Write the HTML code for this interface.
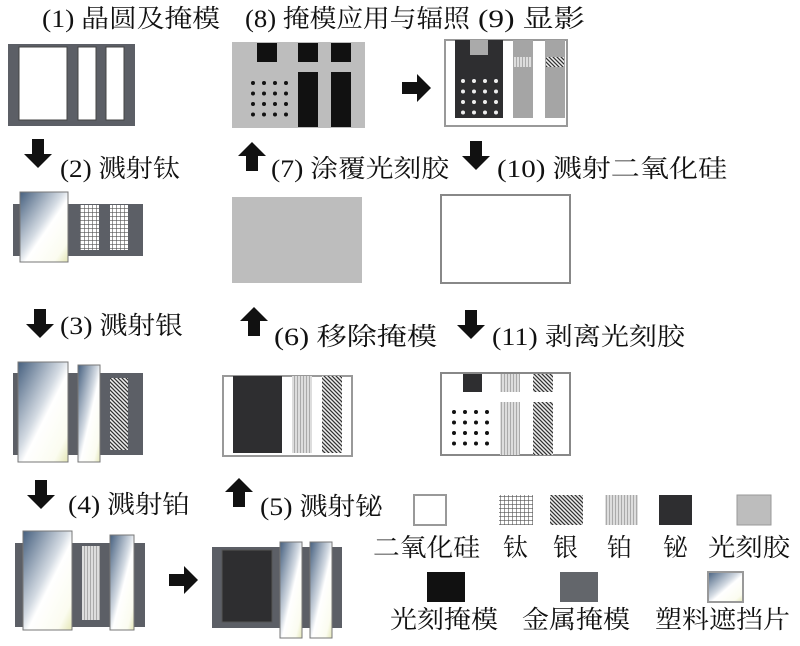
<!DOCTYPE html>
<html><head><meta charset="utf-8">
<style>
html,body{margin:0;padding:0;background:#fff;}
svg{display:block;}
text{font-family:"Liberation Serif","Noto Serif CJK SC","Noto Sans CJK SC",serif;font-size:25px;fill:#111;}
</style></head><body>
<svg width="800" height="646" viewBox="0 0 800 646" xmlns="http://www.w3.org/2000/svg">
<defs>
<pattern id="ti" width="4" height="4" patternUnits="userSpaceOnUse">
<rect width="4" height="4" fill="#fff"/><path d="M0 0H4M0 0V4" stroke="#555" stroke-width="1.2"/></pattern>
<pattern id="ag" width="4" height="4" patternUnits="userSpaceOnUse">
<rect width="4" height="4" fill="#eee"/><path d="M-1 -1L5 5M-1 3L1 5M3 -1L5 1" stroke="#333" stroke-width="1.3"/></pattern>
<pattern id="pt" width="3" height="4" patternUnits="userSpaceOnUse">
<rect width="3" height="4" fill="#ddd"/><path d="M0 0V4" stroke="#777" stroke-width="1"/></pattern>
<linearGradient id="gl" x1="0" y1="0" x2="1" y2="1">
<stop offset="0" stop-color="#46607f"/><stop offset="0.45" stop-color="#d4dbe3"/><stop offset="0.55" stop-color="#fff"/><stop offset="0.85" stop-color="#fbfcf0"/><stop offset="1" stop-color="#e4e6b6"/></linearGradient>
<g id="au"><polygon points="-6,29 6,29 6,14 14,14 0,0 -14,14 -6,14" fill="#111"/></g>
<g id="dots">
<circle cx="0" cy="0" r="2"/><circle cx="11" cy="0" r="2"/><circle cx="22" cy="0" r="2"/><circle cx="33" cy="0" r="2"/>
<circle cx="0" cy="10.5" r="2"/><circle cx="11" cy="10.5" r="2"/><circle cx="22" cy="10.5" r="2"/><circle cx="33" cy="10.5" r="2"/>
<circle cx="0" cy="21" r="2"/><circle cx="11" cy="21" r="2"/><circle cx="22" cy="21" r="2"/><circle cx="33" cy="21" r="2"/>
<circle cx="0" cy="31.5" r="2"/><circle cx="11" cy="31.5" r="2"/><circle cx="22" cy="31.5" r="2"/><circle cx="33" cy="31.5" r="2"/>
</g>
</defs>

<!-- Labels -->
<text x="42" y="27" textLength="178" lengthAdjust="spacingAndGlyphs">(1) 晶圆及掩模</text>
<text x="245" y="27" textLength="225" lengthAdjust="spacingAndGlyphs">(8) 掩模应用与辐照</text>
<text x="478" y="27" textLength="107" lengthAdjust="spacingAndGlyphs">(9) 显影</text>
<text x="60" y="177" textLength="120" lengthAdjust="spacingAndGlyphs">(2) 溅射钛</text>
<text x="271" y="177" textLength="178" lengthAdjust="spacingAndGlyphs">(7) 涂覆光刻胶</text>
<text x="497" y="177" textLength="230" lengthAdjust="spacingAndGlyphs">(10) 溅射二氧化硅</text>
<text x="60" y="334" textLength="123" lengthAdjust="spacingAndGlyphs">(3) 溅射银</text>
<text x="274" y="345" textLength="163" lengthAdjust="spacingAndGlyphs">(6) 移除掩模</text>
<text x="492" y="345" textLength="193" lengthAdjust="spacingAndGlyphs">(11) 剥离光刻胶</text>
<text x="68" y="513" textLength="122" lengthAdjust="spacingAndGlyphs">(4) 溅射铂</text>
<text x="260" y="515" textLength="123" lengthAdjust="spacingAndGlyphs">(5) 溅射铋</text>

<!-- Arrows -->
<use href="#au" transform="translate(38,168) rotate(180)"/>
<use href="#au" transform="translate(40,338) rotate(180)"/>
<use href="#au" transform="translate(41,509) rotate(180)"/>
<use href="#au" transform="translate(239,478)"/>
<use href="#au" transform="translate(254,307)"/>
<use href="#au" transform="translate(252,142)"/>
<use href="#au" transform="translate(476,170) rotate(180)"/>
<use href="#au" transform="translate(471,339) rotate(180)"/>
<use href="#au" transform="translate(198,580) rotate(90)"/>
<use href="#au" transform="translate(431,88) rotate(90)"/>

<!-- Panel 1 -->
<rect x="8" y="44" width="127" height="82" fill="#5c5f66"/>
<rect x="19" y="47" width="48" height="73" fill="#fff" stroke="#444" stroke-width="1"/>
<rect x="78" y="47" width="18" height="73" fill="#fff" stroke="#444" stroke-width="1"/>
<rect x="106" y="47" width="18" height="73" fill="#fff" stroke="#444" stroke-width="1"/>

<!-- Panel 2 -->
<rect x="13" y="204" width="130" height="52" fill="#5c5f66"/>
<rect x="80" y="205" width="19" height="45" fill="url(#ti)"/>
<rect x="110" y="205" width="18" height="45" fill="url(#ti)"/>
<rect x="20" y="192" width="48" height="70" fill="url(#gl)" stroke="#777"/>

<!-- Panel 3 -->
<rect x="13" y="373" width="130" height="82" fill="#5c5f66"/>
<rect x="110" y="378" width="18" height="72" fill="url(#ag)"/>
<rect x="18" y="362" width="50" height="100" fill="url(#gl)" stroke="#777"/>
<rect x="78" y="365" width="22" height="97" fill="url(#gl)" stroke="#777"/>

<!-- Panel 4 -->
<rect x="15" y="543" width="130" height="84" fill="#5c5f66"/>
<rect x="82" y="546" width="18" height="74" fill="url(#pt)"/>
<rect x="23" y="531" width="49" height="99" fill="url(#gl)" stroke="#777"/>
<rect x="110" y="535" width="24" height="95" fill="url(#gl)" stroke="#777"/>

<!-- Panel 5 -->
<rect x="212" y="547" width="130" height="81" fill="#5c5f66"/>
<rect x="222" y="550" width="50" height="72" fill="#2e2e30" stroke="#555"/>
<rect x="280" y="542" width="22" height="96" fill="url(#gl)" stroke="#777"/>
<rect x="310" y="542" width="22" height="96" fill="url(#gl)" stroke="#777"/>

<!-- Panel 6 -->
<rect x="223" y="376" width="129" height="80" fill="#fff" stroke="#999" stroke-width="2"/>
<rect x="233" y="376" width="49" height="77" fill="#2e2e30"/>
<rect x="292" y="376" width="20" height="77" fill="url(#pt)"/>
<rect x="322" y="376" width="20" height="77" fill="url(#ag)"/>

<!-- Panel 7 -->
<rect x="232" y="197" width="130" height="86" fill="#bdbdbd"/>

<!-- Panel 8 -->
<rect x="232" y="42" width="133" height="86" fill="#bdbdbd"/>
<rect x="257" y="43" width="20" height="19" fill="#111"/>
<rect x="298" y="43" width="20" height="19" fill="#111"/>
<rect x="331" y="43" width="20" height="19" fill="#111"/>
<rect x="298" y="72" width="20" height="55" fill="#111"/>
<rect x="331" y="72" width="20" height="55" fill="#111"/>
<use href="#dots" transform="translate(253,83)" fill="#111"/>

<!-- Panel 9 -->
<rect x="445" y="40" width="122" height="86" fill="#fff" stroke="#999" stroke-width="2"/>
<rect x="455" y="40" width="48" height="78" fill="#2e2e30"/>
<rect x="470" y="40" width="18" height="15" fill="#aaa"/>
<use href="#dots" transform="translate(463,81)" fill="#eee"/>
<rect x="513" y="40" width="20" height="78" fill="#a5a5a5"/>
<rect x="545" y="40" width="20" height="78" fill="#a5a5a5"/>
<rect x="514" y="57" width="18" height="10" fill="url(#pt)"/>
<rect x="546" y="57" width="18" height="10" fill="url(#ag)"/>

<!-- Panel 10 -->
<rect x="441" y="195" width="129" height="88" fill="#fff" stroke="#888" stroke-width="2"/>

<!-- Panel 11 -->
<rect x="441" y="373" width="129" height="82" fill="#fff" stroke="#888" stroke-width="2"/>
<rect x="463" y="374" width="19" height="18" fill="#2e2e30"/>
<rect x="500" y="374" width="20" height="18" fill="url(#pt)"/>
<rect x="533" y="374" width="20" height="18" fill="url(#ag)"/>
<rect x="500" y="402" width="20" height="53" fill="url(#pt)"/>
<rect x="533" y="402" width="20" height="53" fill="url(#ag)"/>
<use href="#dots" transform="translate(454,412)" fill="#111"/>

<!-- Legend -->
<rect x="414" y="495" width="32" height="30" fill="#fff" stroke="#999" stroke-width="2"/>
<rect x="499" y="495" width="34" height="30" fill="url(#ti)"/>
<rect x="550" y="495" width="33" height="30" fill="url(#ag)"/>
<rect x="605" y="495" width="33" height="30" fill="url(#pt)"/>
<rect x="659" y="495" width="33" height="30" fill="#2e2e30"/>
<rect x="737" y="495" width="34" height="30" fill="#bdbdbd" stroke="#999" stroke-width="1"/>
<text x="373" y="556" textLength="107" lengthAdjust="spacingAndGlyphs">二氧化硅</text>
<text x="503" y="556" textLength="25" lengthAdjust="spacingAndGlyphs">钛</text>
<text x="553" y="556" textLength="25" lengthAdjust="spacingAndGlyphs">银</text>
<text x="607" y="556" textLength="25" lengthAdjust="spacingAndGlyphs">铂</text>
<text x="663" y="556" textLength="25" lengthAdjust="spacingAndGlyphs">铋</text>
<text x="708" y="556" textLength="82" lengthAdjust="spacingAndGlyphs">光刻胶</text>
<rect x="427" y="572" width="38" height="30" fill="#111"/>
<rect x="560" y="572" width="38" height="30" fill="#63666b"/>
<rect x="708" y="572" width="35" height="30" fill="url(#gl)" stroke="#999" stroke-width="2"/>
<text x="390" y="628" textLength="108" lengthAdjust="spacingAndGlyphs">光刻掩模</text>
<text x="522" y="628" textLength="108" lengthAdjust="spacingAndGlyphs">金属掩模</text>
<text x="655" y="628" textLength="135" lengthAdjust="spacingAndGlyphs">塑料遮挡片</text>
</svg>
</body></html>
